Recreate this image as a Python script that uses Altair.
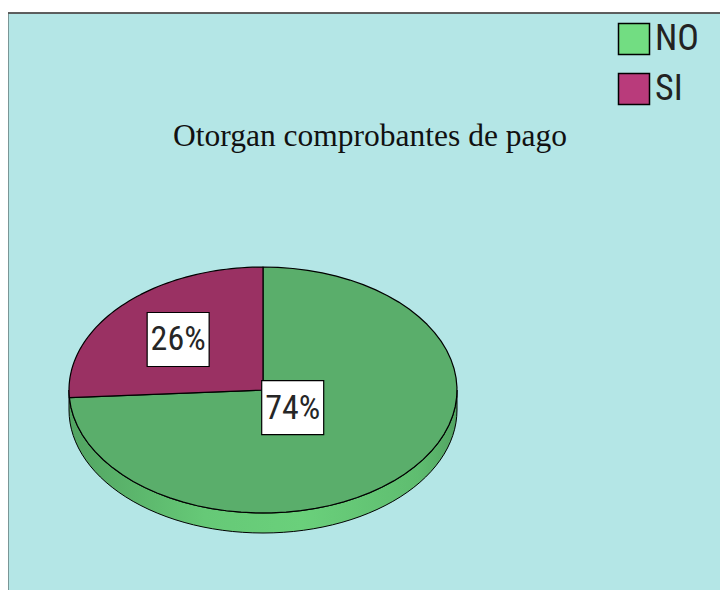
import altair as alt
import pandas as pd

# ---- data ----
categories = ["NO", "SI"]
values = [74, 26]
stack_order = [1, 0]          # SI starts at 12 o'clock, then NO
slice_colors = ["#5aae6b", "#9a3163"]
legend_colors = ["#72dd82", "#b93b7b"]
title_text = "Otorgan comprobantes de pago"

df = pd.DataFrame({"category": categories, "value": values, "k": stack_order,
                   "col": slice_colors})

RX, RY, DEPTH = 194, 123, 20
N = 60
W, H = 712, 582
NARROW = "Liberation Sans Narrow, Roboto Condensed, Roboto, sans-serif"

xs = alt.Scale(domain=[-255, 457], nice=False, zero=False)
ys = alt.Scale(domain=[-205, 377], nice=False, zero=False)

base = (
    alt.Chart(df)
    .transform_window(cum="sum(value)", sort=[alt.SortField("k")])
    .transform_joinaggregate(total="sum(value)")
    .transform_calculate(
        a0="PI/2 + 2*PI*(datum.cum-datum.value)/datum.total",
        a1="PI/2 + 2*PI*datum.cum/datum.total",
    )
)

# top faces of slices
slices = (
    base.transform_calculate(idx=f"sequence(0, {N + 3})")
    .transform_flatten(["idx"])
    .transform_calculate(
        a=f"datum.a0 + (datum.a1-datum.a0)*min(max((datum.idx-1)/{N},0),1)",
        edge=f"datum.idx==0 || datum.idx=={N + 2}",
    )
    .transform_calculate(
        px=f"datum.edge ? 0 : {RX}*cos(datum.a)",
        py=f"datum.edge ? 0 : {RY}*sin(datum.a)",
    )
    .mark_line(stroke="black", strokeWidth=1.2, strokeJoin="round")
    .encode(
        x=alt.X("px:Q", scale=xs, axis=None),
        y=alt.Y("py:Q", scale=ys, axis=None),
        detail="category:N",
        order="idx:Q",
        fill=alt.Fill("col:N", scale=None, legend=None),
    )
)

# side (depth) of the pie
side = (
    alt.Chart(alt.sequence(0, 2 * N + 3, as_="i"))
    .transform_calculate(
        a=f"datum.i<={N} ? PI + datum.i/{N}*PI : (datum.i<={2 * N + 1} ? 2*PI - (datum.i-{N + 1})/{N}*PI : PI)",
        off=f"(datum.i>{N} && datum.i<={2 * N + 1}) ? {DEPTH} : 0",
    )
    .transform_calculate(px=f"{RX}*cos(datum.a)", py=f"{RY}*sin(datum.a) - datum.off")
    .mark_line(
        stroke="black", strokeWidth=1, strokeJoin="round",
        fill=alt.Gradient(
            gradient="linear", x1=0, x2=1, y1=0, y2=0,
            stops=[
                alt.GradientStop(color="#52a462", offset=0),
                alt.GradientStop(color="#66c977", offset=0.35),
                alt.GradientStop(color="#6ad07b", offset=0.6),
                alt.GradientStop(color="#5fbd70", offset=0.9),
                alt.GradientStop(color="#52a462", offset=1),
            ],
        ),
    )
    .encode(
        x=alt.X("px:Q", scale=xs, axis=None),
        y=alt.Y("py:Q", scale=ys, axis=None),
        order="i:Q",
    )
)

# label boxes and texts
lab = base.transform_calculate(
    mid="(datum.a0+datum.a1)/2",
    r="datum.category=='SI' ? 0.6 : 0.21",
    label="format(datum.value/datum.total, '.0%')",
).transform_calculate(
    lx=f"datum.r*{RX}*cos(datum.mid)",
    ly=f"datum.r*{RY}*sin(datum.mid)",
).transform_calculate(
    bx1="datum.lx-31", bx2="datum.lx+31", by1="datum.ly-27", by2="datum.ly+27"
)

boxes = lab.mark_rect(fill="white", stroke="black", strokeWidth=1.2).encode(
    x=alt.X("bx1:Q", scale=xs, axis=None),
    x2="bx2:Q",
    y=alt.Y("by1:Q", scale=ys, axis=None),
    y2="by2:Q",
)
texts = lab.mark_text(font=NARROW, fontSize=34, color="#262626", baseline="middle",
                      align="center", dy=1).encode(
    x=alt.X("lx:Q", scale=xs, axis=None),
    y=alt.Y("ly:Q", scale=ys, axis=None),
    text="label:N",
)

title = alt.Chart(pd.DataFrame({"t": [title_text]})).mark_text(
    font="Liberation Serif, Times New Roman, serif", fontSize=31.5, color="#111111",
    align="center", baseline="alphabetic",
).encode(x=alt.value(362), y=alt.value(133), text="t:N")

# frame (left and top edges only, like the cropped original)
frame_left = alt.Chart(df).mark_rule(color="#333333", strokeWidth=1.5).encode(
    x=alt.value(-0.5), y=alt.value(0), y2=alt.value(H))
frame_top = alt.Chart(df).mark_rule(color="#555555", strokeWidth=1.5).encode(
    x=alt.value(-0.5), x2=alt.value(W), y=alt.value(0))

legend_layer = alt.Chart(df).mark_square(opacity=0).encode(
    x=alt.value(-100),
    y=alt.value(-100),
    fill=alt.Fill(
        "category:N",
        scale=alt.Scale(domain=categories, range=legend_colors),
        legend=alt.Legend(
            title=None, orient="none", legendX=608, legendY=8,
            symbolType="square", symbolSize=961, symbolStrokeColor="black",
            symbolStrokeWidth=1.5, symbolOpacity=1,
            labelFont=NARROW, labelFontSize=36, labelColor="#222222",
            labelOffset=3, rowPadding=12, padding=0, offset=0,
        ),
    ),
)

chart = (
    alt.layer(side, slices, boxes, texts, title, frame_left, frame_top, legend_layer)
    .resolve_scale(fill="independent")
    .resolve_legend(fill="independent")
    .properties(
        width=W, height=H,
        autosize=alt.AutoSizeParams(type="none"),
        padding={"left": 0, "top": 5, "right": 0, "bottom": 0},
        background="white",
    )
    .configure_view(fill="#b4e6e6", stroke=None)
)

chart.save("out.html", embed_options={"renderer": "svg", "actions": False})
